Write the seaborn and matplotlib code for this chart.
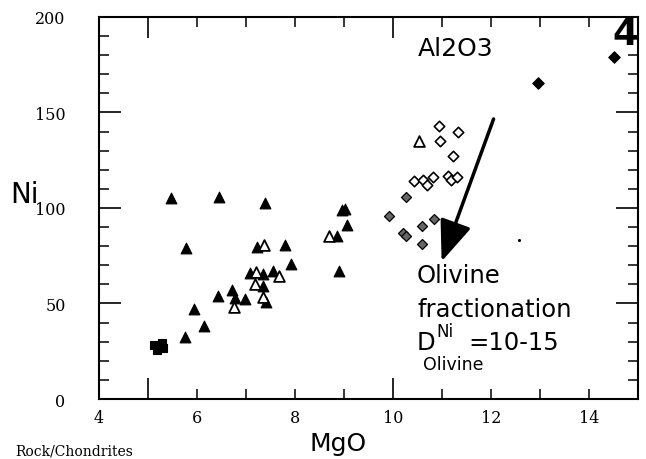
import matplotlib
matplotlib.use("Agg")
import matplotlib.pyplot as plt
import seaborn as sns
import pandas as pd

# ---- data (MgO, Ni) ----
filled_tri_x = [5.47, 6.45, 7.39, 5.78, 7.23, 7.79, 7.91, 7.08, 7.35, 7.56, 7.34, 6.71, 6.78, 6.98,
                6.44, 7.41, 5.95, 6.14, 5.75, 8.95, 9.02, 9.06, 8.85, 8.9]
filled_tri_y = [105.2, 106.0, 102.4, 79.0, 79.7, 80.8, 70.8, 65.8, 65.3, 67.0, 59.0, 57.2, 52.7, 52.5,
                53.8, 50.6, 47.1, 38.4, 32.6, 99.0, 99.5, 91.0, 85.2, 67.0]
open_tri_x = [7.37, 7.2, 7.68, 7.19, 7.34, 6.76, 8.69, 10.52]
open_tri_y = [80.8, 66.7, 64.4, 60.0, 53.4, 48.0, 85.2, 134.9]
open_dia_x = [10.94, 10.96, 11.33, 11.22, 10.43, 10.62, 10.70, 10.82, 11.12, 11.18, 11.31]
open_dia_y = [143.0, 134.9, 139.6, 127.4, 114.3, 114.7, 112.0, 116.0, 117.0, 114.5, 116.0]
cross_dia_x = [10.27, 10.84, 10.60, 10.21, 10.27, 10.58, 9.92]
cross_dia_y = [105.6, 94.2, 90.7, 86.9, 85.5, 81.2, 96.0]
filled_dia_x = [12.95, 14.51]
filled_dia_y = [165.4, 179.0]
square_x = [5.12, 5.2, 5.28, 5.18, 5.3]
square_y = [28.5, 27.0, 29.5, 25.5, 26.5]
speck_x = [12.57]
speck_y = [83.0]

x_major_vals = [5, 10]
x_major_labels = ["", "10"]
x_tick_vals = list(range(4, 16))
x_tick_labels = [str(v) if v % 2 == 0 and v < 15 else "" for v in x_tick_vals]
y_tick_vals = [0, 50, 100, 150, 200]
y_tick_labels = ["0", "50", "100", "150", "200"]

sns.set_style("ticks")
plt.rcParams["font.family"] = ["DejaVu Sans"]
plt.rcParams["text.color"] = "black"
plt.rcParams["axes.labelcolor"] = "black"
plt.rcParams["xtick.color"] = "black"
plt.rcParams["ytick.color"] = "black"

fig = plt.figure(figsize=(6.46, 4.6), dpi=100)
ax = fig.add_axes([0.153, 0.1304, 0.835, 0.8306])

def grp(x, y):
    return pd.DataFrame({"MgO": x, "Ni": y})

sns.scatterplot(data=grp(square_x, square_y), x="MgO", y="Ni", marker="s", s=40,
                color="black", edgecolor="black", linewidth=0.8, ax=ax)
sns.scatterplot(data=grp(filled_tri_x, filled_tri_y), x="MgO", y="Ni", marker="^", s=60,
                color="black", edgecolor="black", linewidth=0.8, ax=ax)
sns.scatterplot(data=grp(open_tri_x, open_tri_y), x="MgO", y="Ni", marker="^", s=60,
                facecolor="white", edgecolor="black", linewidth=1.3, ax=ax)
sns.scatterplot(data=grp(open_dia_x, open_dia_y), x="MgO", y="Ni", marker="D", s=28,
                facecolor="white", edgecolor="black", linewidth=1.2, ax=ax)
sns.scatterplot(data=grp(cross_dia_x, cross_dia_y), x="MgO", y="Ni", marker="D", s=26,
                facecolor="#666666", edgecolor="black", linewidth=0.9, ax=ax)
sns.scatterplot(data=grp(filled_dia_x, filled_dia_y), x="MgO", y="Ni", marker="D", s=34,
                color="black", edgecolor="black", linewidth=0.8, ax=ax)
sns.scatterplot(data=grp(speck_x, speck_y), x="MgO", y="Ni", marker="o", s=5,
                color="black", edgecolor="black", linewidth=0, ax=ax)

ax.set_xlim(4, 15)
ax.set_ylim(0, 200)

# x ticks: long at 5 and 10, short at each integer; labels on even values
ax.set_xticks(x_major_vals, labels=x_major_labels)
ax.set_xticks(x_tick_vals, labels=x_tick_labels, minor=True)
ax.tick_params(axis="x", which="major", direction="in", length=15, width=1.2,
               top=True, bottom=True, pad=7, labelsize=11.5)
ax.tick_params(axis="x", which="minor", direction="in", length=7, width=1.1,
               top=True, bottom=True, pad=7, labelsize=11.5)

ax.set_yticks(y_tick_vals, labels=y_tick_labels)
ax.set_yticks(list(range(0, 201, 10)), minor=True)
ax.tick_params(axis="y", which="major", direction="in", length=16, width=1.2,
               left=True, right=True, pad=24, labelsize=11.5)
ax.tick_params(axis="y", which="minor", direction="in", length=7, width=1.1,
               left=True, right=True)
for lab in ax.get_xticklabels(minor=True) + ax.get_xticklabels() + ax.get_yticklabels():
    lab.set_fontfamily("DejaVu Serif")

for sp in ax.spines.values():
    sp.set_visible(True)
    sp.set_linewidth(1.5)
    sp.set_color("black")

ax.set_xlabel("MgO", fontsize=18, labelpad=6)
ax.xaxis.set_label_coords(0.443, -0.085)
ax.set_ylabel("Ni", fontsize=20, rotation=0, labelpad=0)
ax.yaxis.set_label_coords(-0.138, 0.5)

# annotations
ax.text(10.5, 184, "Al2O3", fontsize=18, va="center", ha="left")
ax.text(15.0, 191, "4", fontsize=27, fontweight="bold", va="center", ha="right")

ax.annotate("", xy=(10.99, 72.0), xytext=(12.05, 146.6),
            arrowprops=dict(arrowstyle="-|>,head_length=1.4,head_width=0.55",
                            color="black", lw=2.5, mutation_scale=18, shrinkA=0, shrinkB=0))

ax.text(10.49, 61.3, "Olivine", fontsize=17.5, va="baseline", ha="left")
ax.text(10.49, 43.5, "fractionation", fontsize=17.5, va="baseline", ha="left")
ax.text(10.49, 26.2, "D", fontsize=17.5, va="baseline", ha="left")
ax.text(10.88, 33.0, "Ni", fontsize=12, va="baseline", ha="left")
ax.text(10.61, 15.7, "Olivine", fontsize=12.5, va="baseline", ha="left")
ax.text(11.53, 26.2, "=10-15", fontsize=17.5, va="baseline", ha="left")

fig.text(133 / 646, 1 - 452 / 460, "Rock/Chondrites", fontsize=10, ha="right",
         va="center", family="DejaVu Serif")

fig.savefig("out.png", dpi=100)
